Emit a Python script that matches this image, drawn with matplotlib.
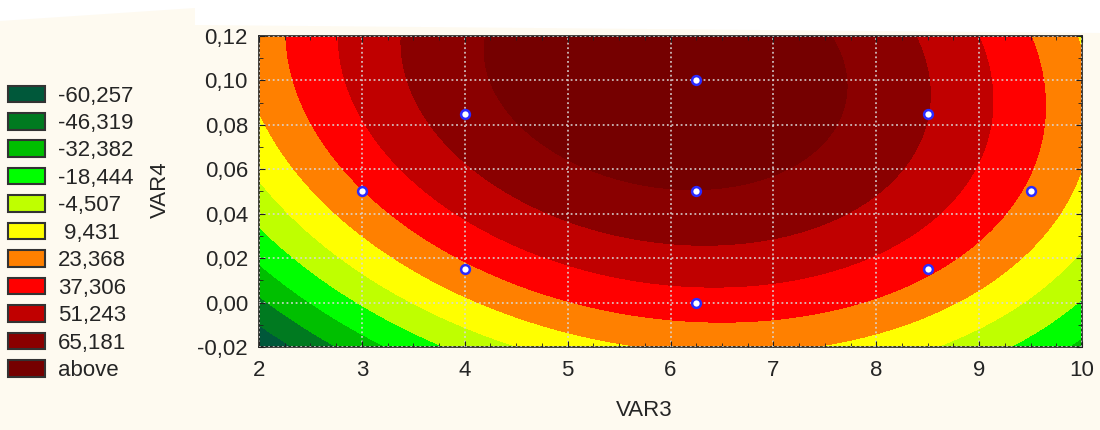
import numpy as np
import matplotlib.pyplot as plt
from matplotlib.patches import Patch, Polygon
from matplotlib.ticker import MultipleLocator, FuncFormatter

plt.rcParams['font.family'] = ['Liberation Sans', 'DejaVu Sans']

# fitted quadratic surface, u = VAR3 - 6.25, v = (VAR4 - 0.05) * 100
b0, b1, b2 = 64.7929, -0.2626, 4.5874
b11, b22, b12 = -4.0622, -0.4245, -0.3888

# design points
var3 = [3, 4, 4, 6.25, 6.25, 6.25, 8.5, 8.5, 9.5]
var4 = [0.05, 0.085, 0.015, 0.10, 0.05, 0.0, 0.085, 0.015, 0.05]

levels = [-60.257, -46.319, -32.382, -18.444, -4.507, 9.431, 23.368, 37.306, 51.243, 65.181]
labels = ['-60,257', '-46,319', '-32,382', '-18,444', '-4,507', ' 9,431',
          '23,368', '37,306', '51,243', '65,181', 'above']
colors = ['#00583a', '#007a20', '#00bf00', '#00ff00', '#bfff00', '#ffff00',
          '#ff8000', '#ff0000', '#c00000', '#8a0000', '#750000']

bg = '#fefaf0'
txt = '#252525'
fs = 16

xg = np.linspace(2, 10, 500)
yg = np.linspace(-0.02, 0.12, 500)
X, Y = np.meshgrid(xg, yg)
U = X - 6.25
V = (Y - 0.05) * 100
Z = b0 + b1 * U + b2 * V + b11 * U * U + b22 * V * V + b12 * U * V

fig = plt.figure(figsize=(11, 4.3), dpi=100, facecolor=bg)
# white strip at the top of the screenshot
fig.patches.append(Polygon([[0, 1], [1, 1], [1, 1 - 33 / 430], [195 / 1100, 1 - 25 / 430],
                            [195 / 1100, 1 - 8 / 430], [0, 1 - 21 / 430]],
                           closed=True, transform=fig.transFigure, facecolor='white',
                           edgecolor='none', zorder=0))

ax = fig.add_axes([259 / 1100, 1 - 347 / 430, (1082 - 259) / 1100, (347 - 36) / 430])
ax.contourf(X, Y, Z, levels=[-1e9] + levels + [1e9], colors=colors, zorder=1)
ax.scatter(var3, var4, s=40, facecolor='white', edgecolor='#2a2aff', linewidth=1.8, zorder=3)

ax.set_xlim(2, 10)
ax.set_ylim(-0.02, 0.12)
ax.xaxis.set_major_locator(MultipleLocator(1))
ax.xaxis.set_minor_locator(MultipleLocator(0.25))
ax.yaxis.set_major_locator(MultipleLocator(0.02))
ax.yaxis.set_minor_locator(MultipleLocator(0.01))
ax.yaxis.set_major_formatter(FuncFormatter(lambda v, _: f'{v:.2f}'.replace('.', ',')))
ax.tick_params(which='both', direction='in', top=True, right=True, color='#202020')
ax.tick_params(which='major', length=4, labelsize=fs, labelcolor=txt, pad=8)
ax.tick_params(which='minor', length=3)
ax.tick_params(axis='x', pad=9)
ax.grid(True, which='major', color='#dadada', linestyle=(0, (1.2, 1.8)), linewidth=1.1, zorder=2)
ax.set_axisbelow(False)
for s in ax.spines.values():
    s.set_color('#202020')
    s.set_linewidth(1.2)

fig.text(644 / 1100, 1 - 410 / 430, 'VAR3', fontsize=fs, color=txt, ha='center', va='center')
fig.text(160 / 1100, 1 - 190 / 430, 'VAR4', fontsize=fs, color=txt, ha='center', va='center',
         rotation=90)

handles = [Patch(facecolor=c, edgecolor='#333333', linewidth=1.5) for c in colors]
fig.legend(handles, labels, loc='upper left', bbox_to_anchor=(8 / 1100, 1 - 85.5 / 430),
           frameon=False, fontsize=fs, handlelength=1.67, handleheight=0.77,
           handletextpad=0.59, labelspacing=0.29, borderpad=0, borderaxespad=0,
           labelcolor=txt)

fig.savefig('out.png', facecolor=bg)
